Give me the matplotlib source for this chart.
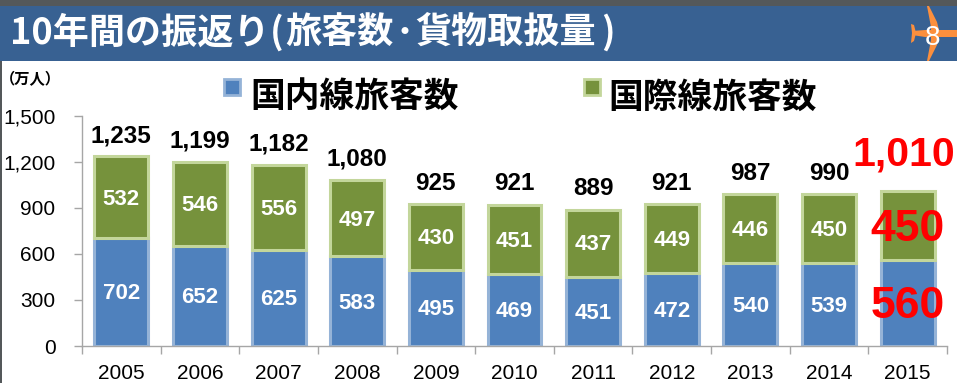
#!/usr/bin/env python3
import numpy as np
import matplotlib
matplotlib.use("Agg")
import matplotlib.pyplot as plt
from matplotlib.patches import Polygon, Rectangle

# ===================== data =====================
YEARS = ["2005", "2006", "2007", "2008", "2009", "2010", "2011", "2012", "2013", "2014", "2015"]
DOMESTIC = [702, 652, 625, 583, 495, 469, 451, 472, 540, 539, 560]
INTL = [532, 546, 556, 497, 430, 451, 437, 449, 446, 450, 450]
TOTALS = [1235, 1199, 1182, 1080, 925, 921, 889, 921, 987, 990, 1010]
YTICKS = [0, 300, 600, 900, 1200, 1500]
TITLE_PARTS = ["10年間の振返り", "(", "旅客数", "･", "貨物取扱量", ")"]
LEGEND_LABELS = ["国内線旅客数", "国際線旅客数"]

JP = ["Noto Sans CJK JP", "DejaVu Sans"]
W, H = 957, 383

plt.rcParams['font.family'] = ['Liberation Sans', 'DejaVu Sans']

fig = plt.figure(figsize=(W / 100, H / 100), dpi=100)

# ===================== header =====================
bg = fig.add_axes([0, 0, 1, 1])
bg.set_xlim(0, W)
bg.set_ylim(H, 0)
bg.axis("off")
bg.add_patch(Rectangle((0, 0), W, 6, color="#54585A", lw=0))
bg.add_patch(Rectangle((0, 6), W, 55, color="#386192", lw=0))
bg.add_patch(Rectangle((0, 61), 1.5, H - 61, color="#54585A", lw=0))
for part, px in zip(TITLE_PARTS, [10, 270, 285, 396, 415, 601]):
    bg.text(px, 33, part, color="white", fontsize=26, fontweight="bold", family=JP, va="center", ha="left")

# plane icon
plane = "#FB8F3D"
bg.add_patch(Polygon([(912, 31), (925, 30), (936, 30), (957, 30), (957, 37), (936, 37), (925, 37), (912, 35)], color=plane, lw=0))
bg.add_patch(Polygon([(927, 6), (929, 6), (937, 22), (939, 30), (939, 37), (937, 45), (929, 61), (927, 61), (931, 40), (931, 27)], color=plane, lw=0))
bg.add_patch(Polygon([(911, 24), (914, 25), (916, 33), (914, 41), (911, 43), (912, 33)], color=plane, lw=0))
bg.text(932, 38, "8", color="white", fontsize=20, va="center", ha="center")

# ===================== chart =====================
ax = fig.add_axes([82 / W, 1 - 346 / H, (947 - 82) / W, (346 - 115.5) / H])
x = np.arange(len(YEARS))
blue = "#4F81BD"
green = "#76923C"
ax.bar(x, DOMESTIC, width=0.685, color=blue, edgecolor="#95B3D7", linewidth=2.2, label=LEGEND_LABELS[0])
ax.bar(x, INTL, width=0.685, bottom=DOMESTIC, color=green, edgecolor="#C3D69B", linewidth=2.2, label=LEGEND_LABELS[1])

ax.set_xlim(-0.5, len(YEARS) - 0.5)
ax.set_ylim(0, 1500)
ax.set_yticks(YTICKS)
ax.set_yticklabels([f"{v:,}" for v in YTICKS], fontsize=15)
ax.set_xticks(x)
ax.set_xticklabels(YEARS, fontsize=15)
ax.set_xticks(np.arange(len(YEARS) + 1) - 0.5, minor=True)
ax.tick_params(axis="x", which="major", length=0, pad=13)
ax.tick_params(axis="x", which="minor", length=6, color="#A6A6A6", width=1)
ax.tick_params(axis="y", length=6, color="#A6A6A6", width=1, pad=13)
for side in ["top", "right"]:
    ax.spines[side].set_visible(False)
for side in ["left", "bottom"]:
    ax.spines[side].set_color("#A6A6A6")
    ax.spines[side].set_linewidth(1)

# value labels
for i in range(len(YEARS) - 1):
    ax.text(i, DOMESTIC[i] / 2 - 12, str(DOMESTIC[i]), color="white", fontsize=16, fontweight="bold", ha="center", va="center")
    ax.text(i, DOMESTIC[i] + INTL[i] / 2 - 12, str(INTL[i]), color="white", fontsize=16, fontweight="bold", ha="center", va="center")
    ax.text(i, TOTALS[i] + 60, f"{TOTALS[i]:,}", color="black", fontsize=17.5, fontweight="bold", ha="center", va="bottom")

# 2015 is highlighted in red
last = len(YEARS) - 1
ax.text(last, DOMESTIC[last] / 2 - 25, str(DOMESTIC[last]), color="#FF0000", fontsize=32, fontweight="bold", ha="center", va="center", clip_on=False)
ax.text(last, DOMESTIC[last] + INTL[last] / 2 - 28, str(INTL[last]), color="#FF0000", fontsize=32, fontweight="bold", ha="center", va="center", clip_on=False)
ax.text(last - 0.05, TOTALS[last] + 235, f"{TOTALS[last]:,}", color="#FF0000", fontsize=29.5, fontweight="bold", ha="center", va="center", clip_on=False)

# unit and legend
bg.text(0, 79, "（万人）", color="black", fontsize=11, fontweight="bold", family=JP, va="center", ha="left")
bg.add_patch(Rectangle((224, 79), 16, 16, facecolor=blue, edgecolor="#95B3D7", lw=2))
bg.text(250, 97, LEGEND_LABELS[0], color="black", fontsize=25, fontweight="bold", family=JP, va="center", ha="left")
bg.add_patch(Rectangle((584, 79), 16, 16, facecolor=green, edgecolor="#C3D69B", lw=2))
bg.text(608, 97, LEGEND_LABELS[1], color="black", fontsize=25, fontweight="bold", family=JP, va="center", ha="left")

plt.savefig("out.png", dpi=100)
plt.close()
